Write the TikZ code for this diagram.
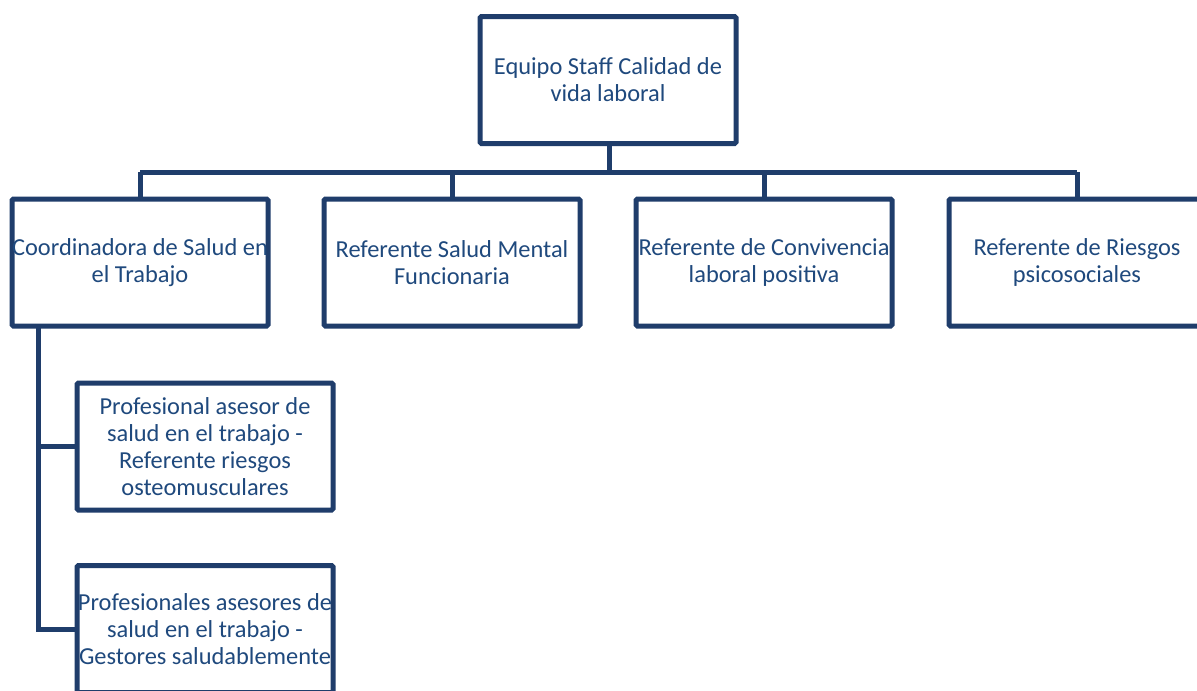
\documentclass[tikz,border=0pt]{standalone}
\usepackage{fontspec}
\setmainfont{Carlito}
\definecolor{linec}{HTML}{1F3D6B}
\definecolor{textc}{HTML}{1F497D}
\begin{document}
\begin{tikzpicture}[x=0.75pt,y=-0.75pt,
  orgbox/.style={draw=linec, line width=3.75pt, fill=white, rounded corners=1pt,
    minimum width=192pt, minimum height=95.25pt, inner sep=0pt, align=center,
    text=textc, font=\fontsize{18.3}{20.4}\selectfont},
  conn/.style={draw=linec, line width=3.75pt}]
\useasboundingbox (0,0) rectangle (1197,690);
\clip (0,0) rectangle (1197,690);
\fill[white] (0,0) rectangle (1197,690);
\node[orgbox] (top) at (608,80) {Equipo Staff Calidad de\\vida laboral};
\node[orgbox] (b1) at (140,262.5) {Coordinadora de Salud en\\el Trabajo};
\node[orgbox] (b2) at (452,262.5) {Referente Salud Mental\\Funcionaria};
\node[orgbox] (b3) at (764,262.5) {Referente de Convivencia\\laboral positiva};
\node[orgbox] (b4) at (1077,262.5) {Referente de Riesgos\\psicosociales};
\node[orgbox] (b5) at (205,446.5) {Profesional asesor de\\salud en el trabajo -\\Referente riesgos\\osteomusculares};
\node[orgbox] (b6) at (205,629) {Profesionales asesores de\\salud en el trabajo -\\Gestores saludablemente};
\coordinate (bus) at (609,172);
\coordinate (v) at (38,326);
\draw[conn] (top.south -| bus) -- (bus);
\draw[conn] (b1.north |- bus) -- (b4.north |- bus);
\draw[conn] (b1.north |- bus) -- (b1.north);
\draw[conn] (b2.north |- bus) -- (b2.north);
\draw[conn] (b3.north |- bus) -- (b3.north);
\draw[conn] (b4.north |- bus) -- (b4.north);
\draw[conn] (v) -- (v |- b6.west) -- (b6.west);
\draw[conn] (v |- b5.west) -- (b5.west);
\end{tikzpicture}
\end{document}
